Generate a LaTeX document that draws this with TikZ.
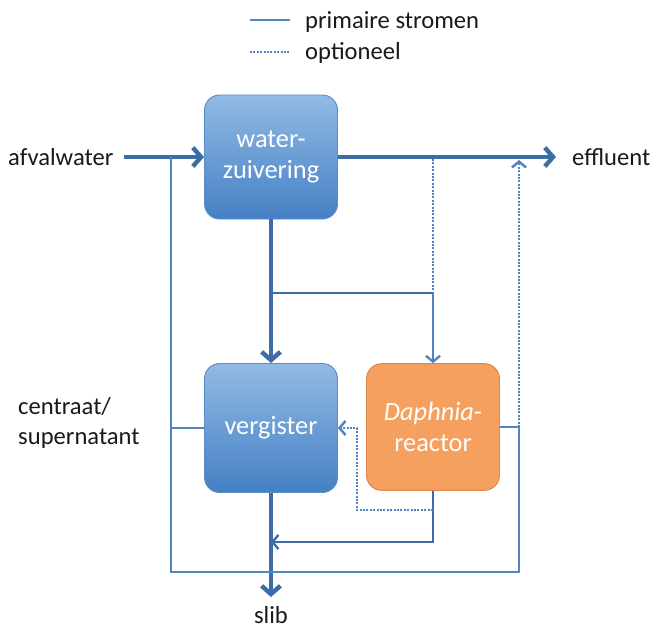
\documentclass[tikz,border=0pt]{standalone}
\usepackage{fontspec}
\setmainfont{Carlito}
\usetikzlibrary{arrows.meta,positioning}
\definecolor{lijn}{RGB}{84,132,192}
\definecolor{lijndonker}{RGB}{62,108,165}
\definecolor{blauwtop}{RGB}{146,186,228}
\definecolor{blauwbodem}{RGB}{68,128,196}
\definecolor{blauwrand}{RGB}{90,140,200}
\definecolor{oranje}{RGB}{245,160,95}
\definecolor{oranjerand}{RGB}{220,135,75}
\definecolor{tekstkleur}{RGB}{25,25,25}
\begin{document}
\begin{tikzpicture}[x=0.03cm,y=-0.03cm,
  tekst/.style={font=\fontsize{21}{25}\selectfont,text=tekstkleur,inner sep=0},
  blok/.style={rounded corners=13pt,draw=blauwrand,line width=0.8pt,top color=blauwtop,bottom color=blauwbodem,
    minimum width=3.99cm,minimum height=3.8cm,align=center,text=white,font=\fontsize{22.5}{27}\selectfont},
  oblok/.style={blok,draw=oranjerand,top color=oranje,bottom color=oranje},
  dik/.style={draw=lijndonker,line width=3.8pt},
  dun/.style={draw=lijndonker,line width=2pt},
  optie/.style={draw=lijn,line width=2.1pt,dash pattern=on 1.7pt off 1.2pt},
  pijl/.style={-{Straight Barb[length=7pt,width=16pt]}},
  pijltje/.style={-{Straight Barb[length=5pt,width=12pt]}}]
\useasboundingbox (0,0) rectangle (657,630);
% legenda
\coordinate (l1a) at (250,20); \coordinate (l1b) at (290,20);
\coordinate (l2a) at (250,52); \coordinate (l2b) at (290,52);
\draw[dun,draw=lijn] (l1a) -- (l1b);
\draw[optie] (l2a) -- (l2b);
\node[tekst,anchor=west] (leg1) at (305,22) {primaire stromen};
\node[tekst,anchor=west] (leg2) at (305,53) {optioneel};
% blokken
\node[blok,minimum height=3.72cm] (wz) at (271,157) {water-\\zuivering};
\node[blok,minimum height=3.87cm] (vg) at (271,428) {vergister};
\node[oblok] (dr) at (433,427) {\textit{Daphnia}-\\reactor};
% in- en uitgangen
\node[tekst,anchor=west] (in) at (8,157) {afvalwater};
\node[tekst,anchor=west] (uit) at (572,157) {effluent};
\node[tekst] (slib) at (271,615) {slib};
\node[tekst,anchor=west,align=left] (cs) at (18,423) {centraat/\\supernatant};
\coordinate (inb) at (124,157);
\coordinate (uitb) at (556,157);
\draw[dik,pijl] (inb) -- (wz.west);
\draw[dik,pijl] (wz.east) -- (uitb);
\draw[dik,pijl] (wz.south) -- (vg.north);
\coordinate (slibb) at (271,597);
\draw[dik,pijl] (vg.south) -- (slibb);
% aftakking naar reactor
\coordinate (tak) at (271,293); \coordinate (takr) at (433,293);
\coordinate (eff1) at (433,159);
\draw[optie] (eff1) -- (takr);
\draw[dun] (tak) -- (takr);
\draw[dun,draw=lijn,pijltje] (takr) -- (dr.north);
% terugvoer centraat
\coordinate (lb) at (171,157); \coordinate (lm) at (171,428); \coordinate (lo) at (171,572);
\coordinate (ro) at (519,572); \coordinate (rm) at (519,427); \coordinate (rb) at (519,160);
\draw[dun,draw=lijn] (lb) -- (lo) -- (ro) -- (rm) -- (dr.east);
\draw[dun,draw=lijn] (lm) -- (vg.west);
\draw[optie,pijltje] (rm) -- (rb);
% reactor naar slib
\coordinate (dro) at (433,542); \coordinate (vgo) at (271,542);
\draw[dun,pijltje] (dr.south) -- (dro) -- (vgo);
\coordinate (do1) at (433,510); \coordinate (do2) at (357,510); \coordinate (do3) at (357,428);
\draw[optie,pijltje] (do1) -- (do2) -- (do3) -- (vg.east);
\end{tikzpicture}
\end{document}
